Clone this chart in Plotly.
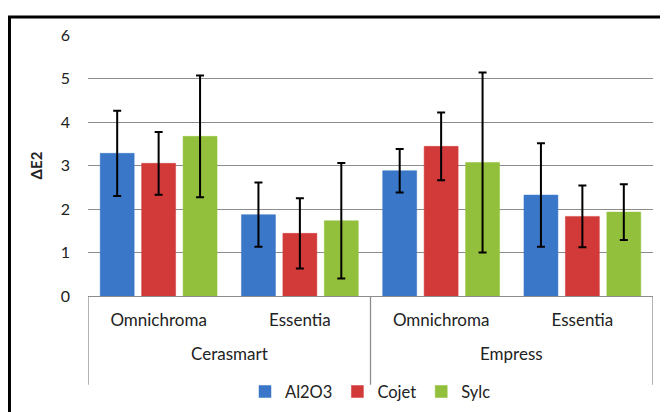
import plotly.graph_objects as go

materials = ["Cerasmart", "Empress"]
composites = ["Omnichroma", "Essentia", "Omnichroma", "Essentia"]
series_names = ["Al2O3", "Cojet", "Sylc"]
al2o3 = [3.28, 1.87, 2.88, 2.32]
al2o3_err = [0.98, 0.74, 0.50, 1.19]
cojet = [3.05, 1.44, 3.44, 1.83]
cojet_err = [0.72, 0.81, 0.78, 0.71]
sylc = [3.67, 1.73, 3.07, 1.93]
sylc_err = [1.40, 1.33, 2.07, 0.64]
colors = ["#3b77c8", "#d23a3a", "#93c03c"]
y_ticks = [0, 1, 2, 3, 4, 5, 6]

xpos = list(range(len(composites)))
n_inner = len(composites) // len(materials)

fig = go.Figure()
for name, vals, errs, col in zip(series_names, [al2o3, cojet, sylc],
                                 [al2o3_err, cojet_err, sylc_err], colors):
    fig.add_trace(go.Bar(
        x=xpos, y=vals, name=name,
        marker=dict(color=col, line=dict(color=col, width=0.5)),
        error_y=dict(type="data", array=errs, visible=True,
                     color="black", thickness=2, width=4),
    ))

grid = "#8c8c8c"
annotations = []
shapes = []
for i, m in enumerate(materials):
    center = i * n_inner + (n_inner - 1) / 2
    annotations.append(dict(x=center, xref="x", y=-0.222, yref="paper",
                            text=m, showarrow=False, yanchor="middle",
                            font=dict(size=17)))
for b in [-0.5 + i * n_inner for i in range(len(materials) + 1)]:
    shapes.append(dict(type="line", xref="x", yref="paper", x0=b, x1=b,
                       y0=0, y1=-0.34, line=dict(color=grid, width=1.3)))
shapes.append(dict(type="rect", xref="paper", yref="paper",
                   x0=-0.139, x1=1.024, y0=-0.5, y1=1.069,
                   line=dict(color="black", width=3), layer="above"))

fig.update_layout(
    width=660, height=404,
    barmode="group", bargap=0.12, bargroupgap=0.18,
    plot_bgcolor="white", paper_bgcolor="white",
    margin=dict(l=80, r=15, t=27, b=116),
    font=dict(family="Lato, Open Sans, sans-serif", size=16, color="#222"),
    showlegend=True,
    legend=dict(orientation="h", x=0.5, xanchor="center",
                yref="container", y=0.05, yanchor="middle",
                font=dict(size=16.5), itemwidth=30, traceorder="normal",
                bgcolor="rgba(0,0,0,0)"),
    yaxis=dict(range=[0, 6], tickvals=y_ticks, showgrid=True, gridcolor=grid,
               gridwidth=1.3, zeroline=False, showline=False, ticks="",
               automargin=False, ticklabelstandoff=17, tickfont=dict(size=16),
               title=dict(text="<b>ΔE2</b>", font=dict(size=15), standoff=14)),
    xaxis=dict(range=[-0.5, len(composites) - 0.5], tickvals=xpos, ticktext=composites,
               showline=True, linecolor=grid, linewidth=1.3, ticks="",
               showgrid=False, zeroline=False, automargin=False,
               ticklabelstandoff=8, tickfont=dict(size=17)),
    annotations=annotations,
    shapes=shapes,
)
fig.write_html("out.html")
